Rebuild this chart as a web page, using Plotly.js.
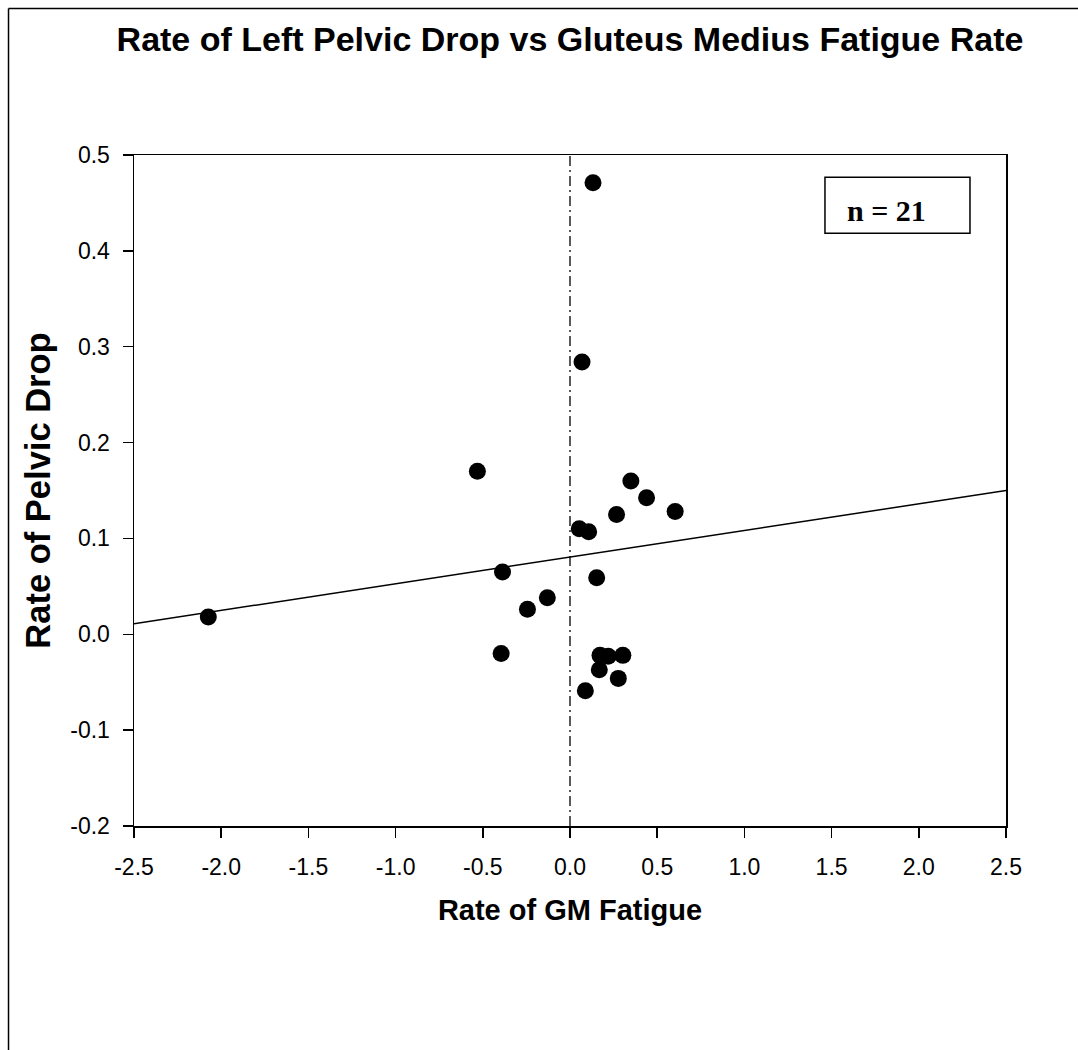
<!DOCTYPE html>
<html>
<head>
<meta charset="utf-8">
<script src="https://cdn.plot.ly/plotly-3.0.1.min.js"></script>
<style>html,body{margin:0;padding:0;background:#fff;}#chart{width:1078px;height:1050px;}</style>
</head>
<body>
<div id="chart"></div>
<script>
// Data
const gmFatigueRate = [0.132, 0.069, -0.531, 0.349, 0.439, 0.267, 0.603, 0.053, 0.107, -0.387, 0.153,
  -0.130, -0.244, -0.395, 0.172, 0.219, 0.303, 0.168, 0.277, 0.088, -2.074];
const pelvicDropRate = [0.471, 0.284, 0.170, 0.160, 0.1425, 0.125, 0.128, 0.110, 0.107, 0.065, 0.059,
  0.038, 0.026, -0.020, -0.022, -0.023, -0.022, -0.037, -0.046, -0.059, 0.018];
const fitX = [-2.5, 2.5];
const fitY = [0.011, 0.150];
const refX = [0, 0];
const refY = [-0.2, 0.5];
const xTickVals = [-2.5, -2.0, -1.5, -1.0, -0.5, 0.0, 0.5, 1.0, 1.5, 2.0, 2.5];
const xTickText = ['-2.5', '-2.0', '-1.5', '-1.0', '-0.5', '0.0', '0.5', '1.0', '1.5', '2.0', '2.5'];
const yTickVals = [-0.2, -0.1, 0.0, 0.1, 0.2, 0.3, 0.4, 0.5];
const yTickText = ['-0.2', '-0.1', '0.0', '0.1', '0.2', '0.3', '0.4', '0.5'];
const nLabel = 'n = 21';
const titleText = 'Rate of Left Pelvic Drop vs Gluteus Medius Fatigue Rate';
const xTitle = 'Rate of GM Fatigue';
const yTitle = 'Rate of Pelvic Drop';

const font = 'Liberation Sans, Arial, sans-serif';

const traces = [
  {x: refX, y: refY, mode: 'lines', line: {color: '#000', width: 1.3, dash: '10px,4px,2px,4px'}, hoverinfo: 'skip'},
  {x: fitX, y: fitY, mode: 'lines', line: {color: '#000', width: 1.5}, hoverinfo: 'skip'},
  {x: gmFatigueRate, y: pelvicDropRate, mode: 'markers', marker: {color: '#000', size: 17, symbol: 'circle'}}
];

const layout = {
  width: 1078, height: 1050,
  margin: {l: 134, r: 72, t: 155, b: 224},
  paper_bgcolor: '#fff', plot_bgcolor: '#fff',
  showlegend: false,
  font: {family: font, color: '#000'},
  title: {text: titleText, font: {family: font, size: 34, weight: 'bold', color: '#000'},
          x: 0.5, xref: 'paper', xanchor: 'center', y: 1 - 39/1050, yref: 'container', yanchor: 'middle'},
  xaxis: {
    range: [-2.5, 2.5], tickmode: 'array', tickvals: xTickVals, ticktext: xTickText,
    ticks: 'outside', ticklen: 10, tickwidth: 1.5, tickcolor: '#000',
    showline: true, linecolor: '#000', linewidth: 1.5, mirror: true,
    showgrid: false, zeroline: false,
    tickfont: {family: font, size: 23, color: '#000'},
    ticklabelstandoff: 10,
    title: {text: xTitle, font: {family: font, size: 29, weight: 'bold', color: '#000'}, standoff: 20}
  },
  yaxis: {
    range: [-0.2, 0.5], tickmode: 'array', tickvals: yTickVals, ticktext: yTickText,
    ticks: 'outside', ticklen: 10, tickwidth: 1.5, tickcolor: '#000',
    showline: true, linecolor: '#000', linewidth: 1.5, mirror: true,
    showgrid: false, zeroline: false,
    tickfont: {family: font, size: 23, color: '#000'},
    ticklabelstandoff: 8,
    title: {text: yTitle, font: {family: font, size: 34.5, weight: 'bold', color: '#000'}, standoff: 9}
  },
  shapes: [
    {type: 'line', xref: 'paper', yref: 'paper', x0: -0.1439, x1: 1.09, y0: 1.2183, y1: 1.2183, line: {color: '#000', width: 1.5}},
    {type: 'line', xref: 'paper', yref: 'paper', x0: -0.1439, x1: -0.1439, y0: 1.2183, y1: -0.34, line: {color: '#000', width: 1.5}},
    {type: 'rect', xref: 'paper', yref: 'paper', x0: 0.7924, x1: 0.9587, y0: 0.8833, y1: 0.9668, line: {color: '#000', width: 1.5}}
  ],
  annotations: [
    {text: nLabel, xref: 'paper', yref: 'paper', x: 0.8635, y: 0.917, xanchor: 'center', yanchor: 'middle',
     showarrow: false, font: {family: 'Liberation Serif, Times New Roman, serif', size: 30, weight: 'bold', color: '#000'}}
  ]
};

Plotly.newPlot('chart', traces, layout, {displayModeBar: false, staticPlot: true});
</script>
</body>
</html>
